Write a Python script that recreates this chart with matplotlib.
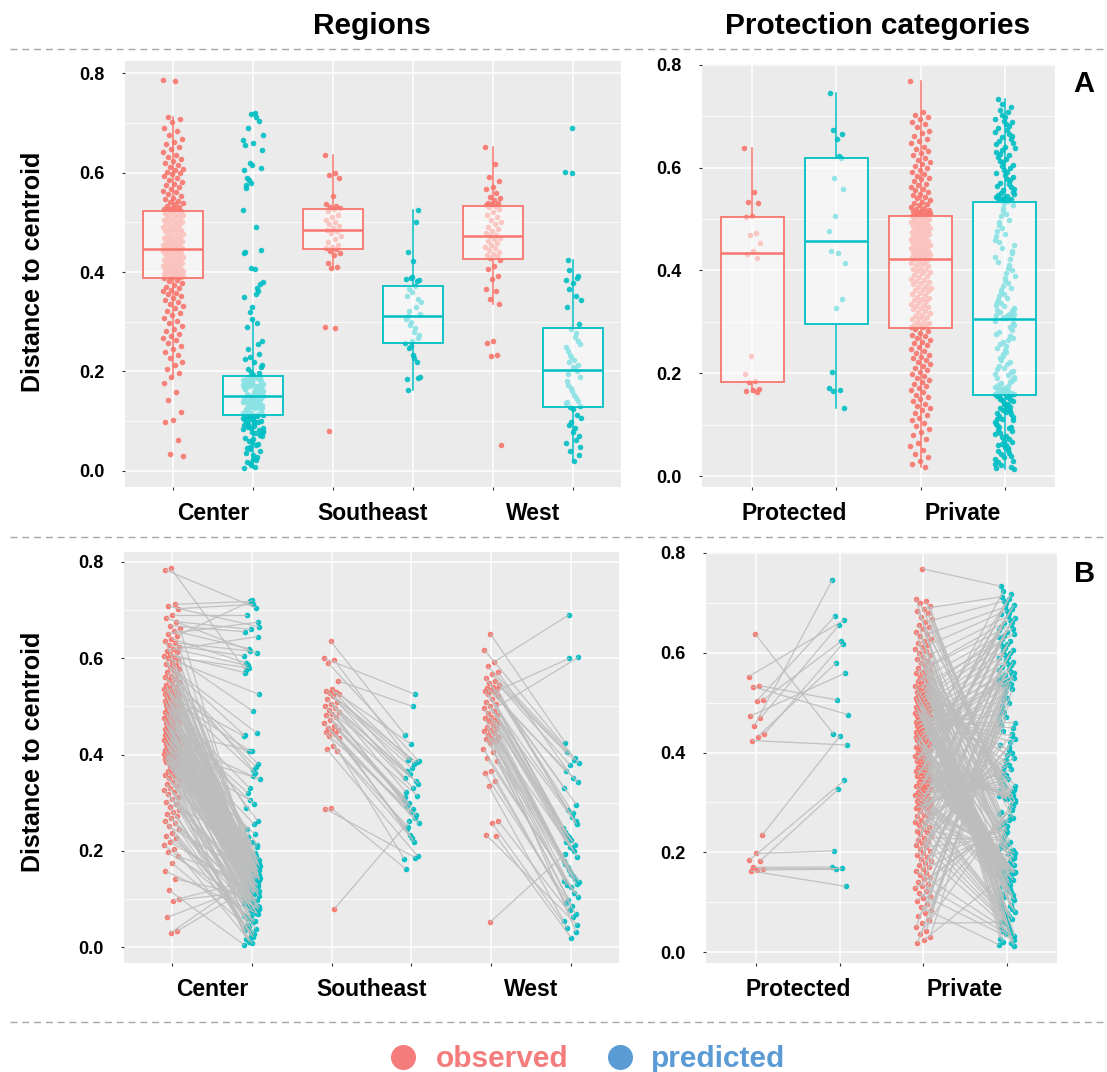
import numpy as np
import matplotlib
matplotlib.use("Agg")
import matplotlib.pyplot as plt
from matplotlib.lines import Line2D
from matplotlib.collections import LineCollection

# ---------------- data ----------------
region_labels = ["Center", "Southeast", "West"]
protection_labels = ["Protected", "Private"]
y_ticks = [0.0, 0.2, 0.4, 0.6, 0.8]
y_ticklabels = ["0.0", "0.2", "0.4", "0.6", "0.8"]
legend_labels = ["observed", "predicted"]

center_obs = [
    0.787, 0.784, 0.712, 0.708, 0.703, 0.690, 0.684, 0.676, 0.668, 0.662, 0.657, 0.651,
    0.647, 0.641, 0.636, 0.632, 0.628, 0.624, 0.620, 0.616, 0.612, 0.608, 0.605, 0.602, 0.600,
    0.597, 0.593, 0.589, 0.586, 0.582, 0.578, 0.575, 0.571, 0.568, 0.564, 0.561, 0.557, 0.554,
    0.550, 0.547, 0.544, 0.541, 0.538, 0.536, 0.533, 0.531, 0.529, 0.527, 0.526,
    0.524, 0.522, 0.521, 0.519, 0.517, 0.516, 0.514, 0.512, 0.511, 0.509, 0.507, 0.505, 0.503,
    0.502, 0.500, 0.498, 0.496, 0.494, 0.493, 0.491, 0.489, 0.487, 0.485, 0.484, 0.482, 0.480,
    0.478, 0.476, 0.475, 0.473, 0.471, 0.469, 0.468, 0.466, 0.464, 0.463, 0.461, 0.460, 0.458,
    0.457, 0.455, 0.454, 0.453, 0.452, 0.451, 0.450, 0.449, 0.449, 0.448, 0.447,
    0.446, 0.445, 0.444, 0.443, 0.441, 0.440, 0.439, 0.437, 0.436, 0.434, 0.433, 0.431, 0.430,
    0.428, 0.427, 0.425, 0.424, 0.422, 0.421, 0.419, 0.418, 0.416, 0.415, 0.413, 0.412, 0.410,
    0.409, 0.407, 0.406, 0.405, 0.404, 0.403, 0.402, 0.401, 0.400, 0.399, 0.398, 0.397, 0.396,
    0.395, 0.394, 0.394, 0.393, 0.393, 0.392, 0.392, 0.391, 0.391, 0.390, 0.390,
    0.388, 0.384, 0.381, 0.377, 0.374, 0.370, 0.367, 0.364, 0.361, 0.358, 0.355, 0.351, 0.347,
    0.343, 0.339, 0.335, 0.331, 0.327, 0.322, 0.318, 0.313, 0.307, 0.302, 0.297, 0.292, 0.286,
    0.281, 0.276, 0.272, 0.268, 0.263, 0.257, 0.251, 0.245, 0.238, 0.232, 0.226, 0.219, 0.213,
    0.205, 0.197, 0.189, 0.176, 0.158, 0.142, 0.118, 0.101, 0.097, 0.062, 0.033, 0.030,
]
center_pred = [
    0.575, 0.705, 0.718, 0.665, 0.712, 0.690, 0.610, 0.660, 0.655, 0.152, 0.620, 0.675,
    0.720, 0.590, 0.182, 0.615, 0.605, 0.166, 0.585, 0.645, 0.141, 0.570, 0.196, 0.580, 0.525,
    0.490, 0.176, 0.445, 0.192, 0.440, 0.186, 0.171, 0.380, 0.156, 0.179, 0.375, 0.146, 0.168,
    0.368, 0.188, 0.161, 0.136, 0.173, 0.362, 0.183, 0.151, 0.127, 0.290, 0.142,
    0.178, 0.438, 0.162, 0.149, 0.262, 0.187, 0.121, 0.171, 0.408, 0.139, 0.158, 0.245, 0.181,
    0.112, 0.166, 0.133, 0.228, 0.175, 0.098, 0.154, 0.189, 0.330, 0.143, 0.167, 0.118, 0.212,
    0.159, 0.184, 0.131, 0.085, 0.172, 0.147, 0.205, 0.163, 0.108, 0.177, 0.137, 0.320, 0.152,
    0.169, 0.124, 0.185, 0.198, 0.144, 0.157, 0.092, 0.174, 0.129, 0.165, 0.115,
    0.135, 0.161, 0.407, 0.118, 0.146, 0.176, 0.104, 0.298, 0.128, 0.153, 0.089, 0.168, 0.141,
    0.116, 0.182, 0.355, 0.126, 0.149, 0.101, 0.164, 0.255, 0.132, 0.078, 0.157, 0.119, 0.186,
    0.145, 0.350, 0.110, 0.138, 0.171, 0.094, 0.123, 0.235, 0.150, 0.106, 0.160, 0.130, 0.072,
    0.305, 0.142, 0.113, 0.179, 0.127, 0.218, 0.097, 0.155, 0.134, 0.083, 0.170,
    0.088, 0.121, 0.064, 0.225, 0.097, 0.043, 0.112, 0.075, 0.018, 0.131, 0.058, 0.091, 0.027,
    0.103, 0.069, 0.139, 0.035, 0.082, 0.012, 0.117, 0.052, 0.094, 0.208, 0.024, 0.066, 0.128,
    0.047, 0.086, 0.008, 0.109, 0.039, 0.077, 0.143, 0.021, 0.060, 0.099, 0.031, 0.124, 0.054,
    0.015, 0.080, 0.135, 0.045, 0.071, 0.106, 0.005, 0.140, 0.115, 0.133, 0.126, 0.138,
]
southeast_obs = [
    0.636, 0.600, 0.596, 0.590, 0.553, 0.536, 0.533, 0.530, 0.528, 0.526, 0.522, 0.515, 0.510,
    0.505, 0.500, 0.497, 0.492, 0.488, 0.485, 0.482, 0.478, 0.472, 0.466, 0.460, 0.455, 0.451,
    0.448, 0.446, 0.443, 0.438, 0.435, 0.418, 0.411, 0.408, 0.290, 0.288, 0.080,
]
southeast_pred = [
    0.440, 0.525, 0.390, 0.386, 0.500, 0.365, 0.384, 0.422, 0.352, 0.381, 0.388, 0.340, 0.372,
    0.322, 0.345, 0.360, 0.306, 0.330, 0.294, 0.315, 0.280, 0.311, 0.268, 0.300, 0.257, 0.288,
    0.246, 0.274, 0.233, 0.184, 0.219, 0.250, 0.189, 0.226, 0.163, 0.186, 0.262,
]
west_obs = [
    0.651, 0.618, 0.592, 0.583, 0.572, 0.568, 0.560, 0.552, 0.549, 0.545, 0.540, 0.538, 0.537,
    0.535, 0.533, 0.530, 0.526, 0.521, 0.515, 0.510, 0.505, 0.500, 0.496, 0.491, 0.487, 0.483,
    0.479, 0.475, 0.472, 0.469, 0.466, 0.462, 0.458, 0.455, 0.451, 0.448, 0.445, 0.441, 0.437,
    0.434, 0.432, 0.428, 0.424, 0.412, 0.406, 0.392, 0.386, 0.366, 0.361, 0.345, 0.335, 0.262,
    0.257, 0.233, 0.231, 0.052,
]
west_pred = [
    0.425, 0.392, 0.690, 0.383, 0.352, 0.405, 0.296, 0.378, 0.330, 0.388, 0.285, 0.343, 0.270,
    0.365, 0.262, 0.600, 0.248, 0.278, 0.233, 0.255, 0.222, 0.240, 0.213, 0.228, 0.602, 0.206,
    0.218, 0.032, 0.209, 0.180, 0.200, 0.166, 0.188, 0.153, 0.172, 0.141, 0.160, 0.136, 0.147,
    0.129, 0.131, 0.125, 0.138, 0.112, 0.098, 0.105, 0.086, 0.092, 0.070, 0.078, 0.055, 0.062,
    0.040, 0.047, 0.020, 0.194,
]
protected_obs = [
    0.638, 0.552, 0.534, 0.532, 0.505, 0.503, 0.473, 0.469, 0.453, 0.437, 0.432, 0.424, 0.234,
    0.198, 0.184, 0.182, 0.170, 0.167, 0.165, 0.163,
]
protected_pred = [
    0.437, 0.665, 0.505, 0.476, 0.623, 0.673, 0.559, 0.655, 0.746, 0.618, 0.580, 0.415, 0.434,
    0.203, 0.344, 0.326, 0.171, 0.168, 0.166, 0.132,
]
private_obs = [
    0.768, 0.708, 0.703, 0.699, 0.694, 0.688, 0.684, 0.679, 0.672, 0.667, 0.661, 0.656, 0.652,
    0.647, 0.641, 0.637, 0.633, 0.628, 0.624, 0.619, 0.615, 0.611, 0.607, 0.603, 0.599, 0.595,
    0.591, 0.588, 0.584, 0.580, 0.577, 0.573, 0.569, 0.566, 0.562, 0.559, 0.556, 0.552, 0.549,
    0.546, 0.543, 0.540, 0.537, 0.534, 0.531, 0.529, 0.527, 0.524, 0.522, 0.520, 0.518, 0.516,
    0.515, 0.513, 0.512, 0.511, 0.510, 0.509, 0.509, 0.508,
    0.506, 0.504, 0.503, 0.501, 0.500, 0.498, 0.497, 0.495, 0.494, 0.492, 0.491, 0.489, 0.488,
    0.486, 0.485, 0.483, 0.482, 0.480, 0.479, 0.477, 0.476, 0.474, 0.473, 0.471, 0.470, 0.468,
    0.467, 0.465, 0.464, 0.462, 0.461, 0.459, 0.458, 0.456, 0.455, 0.453, 0.452, 0.450, 0.449,
    0.447, 0.446, 0.444, 0.443, 0.441, 0.440, 0.438, 0.437, 0.435, 0.434, 0.433, 0.432, 0.431,
    0.430, 0.429, 0.428, 0.427, 0.426, 0.426, 0.425, 0.424,
    0.422, 0.419, 0.417, 0.415, 0.412, 0.410, 0.408, 0.405, 0.403, 0.401, 0.398, 0.396, 0.394,
    0.391, 0.389, 0.387, 0.384, 0.382, 0.380, 0.377, 0.375, 0.373, 0.370, 0.368, 0.366, 0.363,
    0.361, 0.359, 0.356, 0.354, 0.352, 0.349, 0.347, 0.345, 0.342, 0.340, 0.338, 0.335, 0.333,
    0.331, 0.328, 0.326, 0.324, 0.321, 0.319, 0.317, 0.314, 0.312, 0.310, 0.307, 0.305, 0.303,
    0.300, 0.298, 0.296, 0.294, 0.293, 0.291, 0.290, 0.289,
    0.286, 0.282, 0.279, 0.275, 0.272, 0.268, 0.265, 0.261, 0.258, 0.254, 0.251, 0.247, 0.243,
    0.240, 0.236, 0.232, 0.229, 0.225, 0.221, 0.218, 0.214, 0.210, 0.206, 0.203, 0.199, 0.195,
    0.191, 0.187, 0.183, 0.179, 0.175, 0.171, 0.167, 0.163, 0.158, 0.154, 0.150, 0.146, 0.141,
    0.137, 0.132, 0.128, 0.123, 0.118, 0.113, 0.108, 0.103, 0.097, 0.091, 0.085, 0.079, 0.072,
    0.065, 0.058, 0.050, 0.043, 0.036, 0.030, 0.024, 0.018,
]
private_pred = [
    0.733, 0.095, 0.308, 0.301, 0.140, 0.712, 0.297, 0.309, 0.110, 0.289,
    0.703, 0.013, 0.311, 0.281, 0.018, 0.691, 0.277, 0.314, 0.021, 0.269,
    0.684, 0.027, 0.316, 0.261, 0.033, 0.673, 0.257, 0.321, 0.036, 0.249,
    0.666, 0.042, 0.325, 0.241, 0.048, 0.655, 0.237, 0.333, 0.051, 0.229,
    0.648, 0.057, 0.339, 0.221, 0.063, 0.638, 0.217, 0.350, 0.066, 0.211,
    0.631, 0.072, 0.358, 0.205, 0.078, 0.620, 0.202, 0.370, 0.081, 0.196,
    0.613, 0.087, 0.380, 0.190, 0.093, 0.603, 0.188, 0.395, 0.096, 0.184,
    0.596, 0.102, 0.405, 0.180, 0.108, 0.585, 0.178, 0.422, 0.111, 0.174,
    0.578, 0.117, 0.433, 0.171, 0.122, 0.568, 0.170, 0.449, 0.125, 0.168,
    0.562, 0.129, 0.460, 0.166, 0.133, 0.553, 0.165, 0.477, 0.135, 0.163,
    0.549, 0.139, 0.488, 0.162, 0.143, 0.543, 0.161, 0.505, 0.145, 0.160,
    0.540, 0.149, 0.516, 0.160, 0.153, 0.537, 0.159, 0.532, 0.155, 0.159,
    0.724, 0.159, 0.307, 0.157, 0.717, 0.308, 0.160, 0.708, 0.151, 0.309,
    0.699, 0.161, 0.310, 0.147, 0.695, 0.312, 0.162, 0.688, 0.141, 0.313,
    0.680, 0.164, 0.315, 0.137, 0.677, 0.317, 0.167, 0.670, 0.131, 0.319,
    0.662, 0.169, 0.323, 0.127, 0.659, 0.327, 0.172, 0.652, 0.120, 0.330,
    0.645, 0.176, 0.336, 0.114, 0.641, 0.342, 0.182, 0.634, 0.105, 0.346,
    0.627, 0.186, 0.354, 0.099, 0.624, 0.362, 0.193, 0.617, 0.090, 0.366,
    0.610, 0.199, 0.375, 0.084, 0.606, 0.385, 0.208, 0.599, 0.075, 0.390,
    0.592, 0.214, 0.400, 0.069, 0.589, 0.411, 0.225, 0.582, 0.060, 0.416,
    0.575, 0.233, 0.427, 0.054, 0.571, 0.438, 0.245, 0.565, 0.045, 0.444,
    0.559, 0.253, 0.455, 0.039, 0.556, 0.466, 0.265, 0.551, 0.030, 0.471,
    0.547, 0.273, 0.482, 0.024, 0.545, 0.494, 0.285, 0.541, 0.015, 0.499,
    0.539, 0.293, 0.510, 0.060, 0.538, 0.521, 0.305, 0.536, 0.150, 0.527,
]

region_pairs = [(center_obs, center_pred), (southeast_obs, southeast_pred), (west_obs, west_pred)]
protection_pairs = [(protected_obs, protected_pred), (private_obs, private_pred)]
for o, p in region_pairs + protection_pairs:
    assert len(o) == len(p), (len(o), len(p))

# ---------------- style ----------------
RED = "#F8766D"
TEAL = "#00BFC4"
W, H = 1107, 1072
plt.rcParams["font.family"] = ["Liberation Sans", "DejaVu Sans"]

fig = plt.figure(figsize=(W / 100, H / 100), dpi=100)
fig.patch.set_facecolor("white")


def fx(px):
    return px / W


def fy(py):
    return 1 - py / H


def add_ax(l, t, r, b):
    return fig.add_axes([l / W, 1 - b / H, (r - l) / W, (b - t) / H])


def jitter(n, width, phase=0.0):
    # deterministic horizontal spread for point positions
    return (((np.arange(n) + phase) * 0.6180339887) % 1.0 - 0.5) * 2 * width


def style_axes(ax, ylim, names):
    ncat = 2 * len(names)
    ax.set_facecolor("#EBEBEB")
    ax.set_xlim(0.4, ncat + 0.6)
    ax.set_ylim(*ylim)
    for s in ax.spines.values():
        s.set_visible(False)
    ax.set_yticks(y_ticks)
    ax.set_yticklabels(y_ticklabels, fontsize=13, fontweight="bold")
    ax.set_yticks([0.1, 0.3, 0.5, 0.7], minor=True)
    ax.set_xticks(range(1, ncat + 1))
    ax.set_xticklabels([""] * ncat)
    ax.set_xticks([1.5 + 2 * i for i in range(len(names))], minor=True)
    ax.set_xticklabels(names, minor=True, fontsize=16.5, fontweight="bold")
    ax.grid(which="major", color="white", lw=1.1)
    ax.grid(which="minor", axis="y", color="white", lw=0.55)
    ax.set_axisbelow(True)
    ax.tick_params(axis="both", which="major", length=2.5, width=0.8, color="#333333")
    ax.tick_params(axis="y", which="major", pad=12.5)
    ax.tick_params(axis="y", which="minor", length=0)
    ax.tick_params(axis="x", which="minor", length=0, pad=10.5)


def box_panel(ax, pairs, widths):
    for i, (obs, pred) in enumerate(pairs):
        for j, (vals, col) in enumerate([(obs, RED), (pred, TEAL)]):
            x = 2 * i + 1 + j
            v = np.asarray(vals)
            offs = jitter(len(v), widths[i], phase=0.3 * j)
            ax.scatter(x + offs, v, s=16, c=col, alpha=0.9, lw=0, zorder=2)
            ax.boxplot([v], positions=[x], widths=0.75, whis=1.5, showfliers=False,
                       showcaps=False, patch_artist=True, manage_ticks=False, zorder=3,
                       boxprops=dict(facecolor=(1, 1, 1, 0.55), edgecolor=col, linewidth=1.3),
                       medianprops=dict(color=col, linewidth=1.8),
                       whiskerprops=dict(color=col, linewidth=1.1))


def paired_panel(ax, pairs, widths):
    for i, (obs, pred) in enumerate(pairs):
        xo, xp = 2 * i + 1, 2 * i + 2
        o = np.asarray(obs)
        p = np.asarray(pred)
        jo = xo + jitter(len(o), widths[i], phase=0.7)
        jp = xp + jitter(len(p), widths[i], phase=0.2)
        ax.scatter(jo, o, s=16, c=RED, alpha=0.95, lw=0, zorder=2)
        ax.scatter(jp, p, s=16, c=TEAL, alpha=0.95, lw=0, zorder=2)
        segs = [[(a, b), (c, d)] for a, b, c, d in zip(jo, o, jp, p)]
        ax.add_collection(LineCollection(segs, colors="#BDBDBD", linewidths=0.9,
                                         alpha=0.9, zorder=3))


# panels
ax_tl = add_ax(125, 61, 621, 487)
style_axes(ax_tl, (-0.033, 0.825), region_labels)
box_panel(ax_tl, region_pairs, [0.13, 0.1, 0.1])

ax_tr = add_ax(702, 64, 1055, 487)
style_axes(ax_tr, (-0.0214, 0.8016), protection_labels)
box_panel(ax_tr, protection_pairs, [0.1, 0.12])

ax_bl = add_ax(124, 552, 619, 963)
style_axes(ax_bl, (-0.0326, 0.8206), region_labels)
paired_panel(ax_bl, region_pairs, [0.1, 0.1, 0.1])

ax_br = add_ax(706, 552, 1057, 963)
style_axes(ax_br, (-0.0214, 0.8014), protection_labels)
paired_panel(ax_br, protection_pairs, [0.1, 0.1])

# headers and labels
fig.text(fx(372), fy(26), "Regions", ha="center", va="center", fontsize=21.5, fontweight="bold")
fig.text(fx(878), fy(26), "Protection categories", ha="center", va="center",
         fontsize=21.5, fontweight="bold")
fig.text(fx(1084), fy(84), "A", ha="center", va="center", fontsize=21, fontweight="bold")
fig.text(fx(1085), fy(574), "B", ha="center", va="center", fontsize=21, fontweight="bold")
for yc in (272, 752):
    fig.text(fx(33), fy(yc), "Distance to centroid", rotation=90, ha="center", va="center",
             fontsize=18, fontweight="bold")

for yd in (49, 537, 1022):
    fig.add_artist(Line2D([fx(10), fx(1107)], [fy(yd), fy(yd)], transform=fig.transFigure,
                          color="#A6A6A6", lw=1.0, linestyle=(0, (5, 3.5))))

# legend
for xc, xt, col, lab in [(403, 436, "#F47C7C", legend_labels[0]),
                         (620, 651, "#5B9BD5", legend_labels[1])]:
    fig.add_artist(Line2D([fx(xc)], [fy(1057)], transform=fig.transFigure, marker="o",
                          markersize=17, color=col, lw=0))
    fig.text(fx(xt), fy(1067), lab, ha="left", va="baseline", fontsize=21.5,
             fontweight="bold", color=col)

fig.savefig("out.png", dpi=100)
